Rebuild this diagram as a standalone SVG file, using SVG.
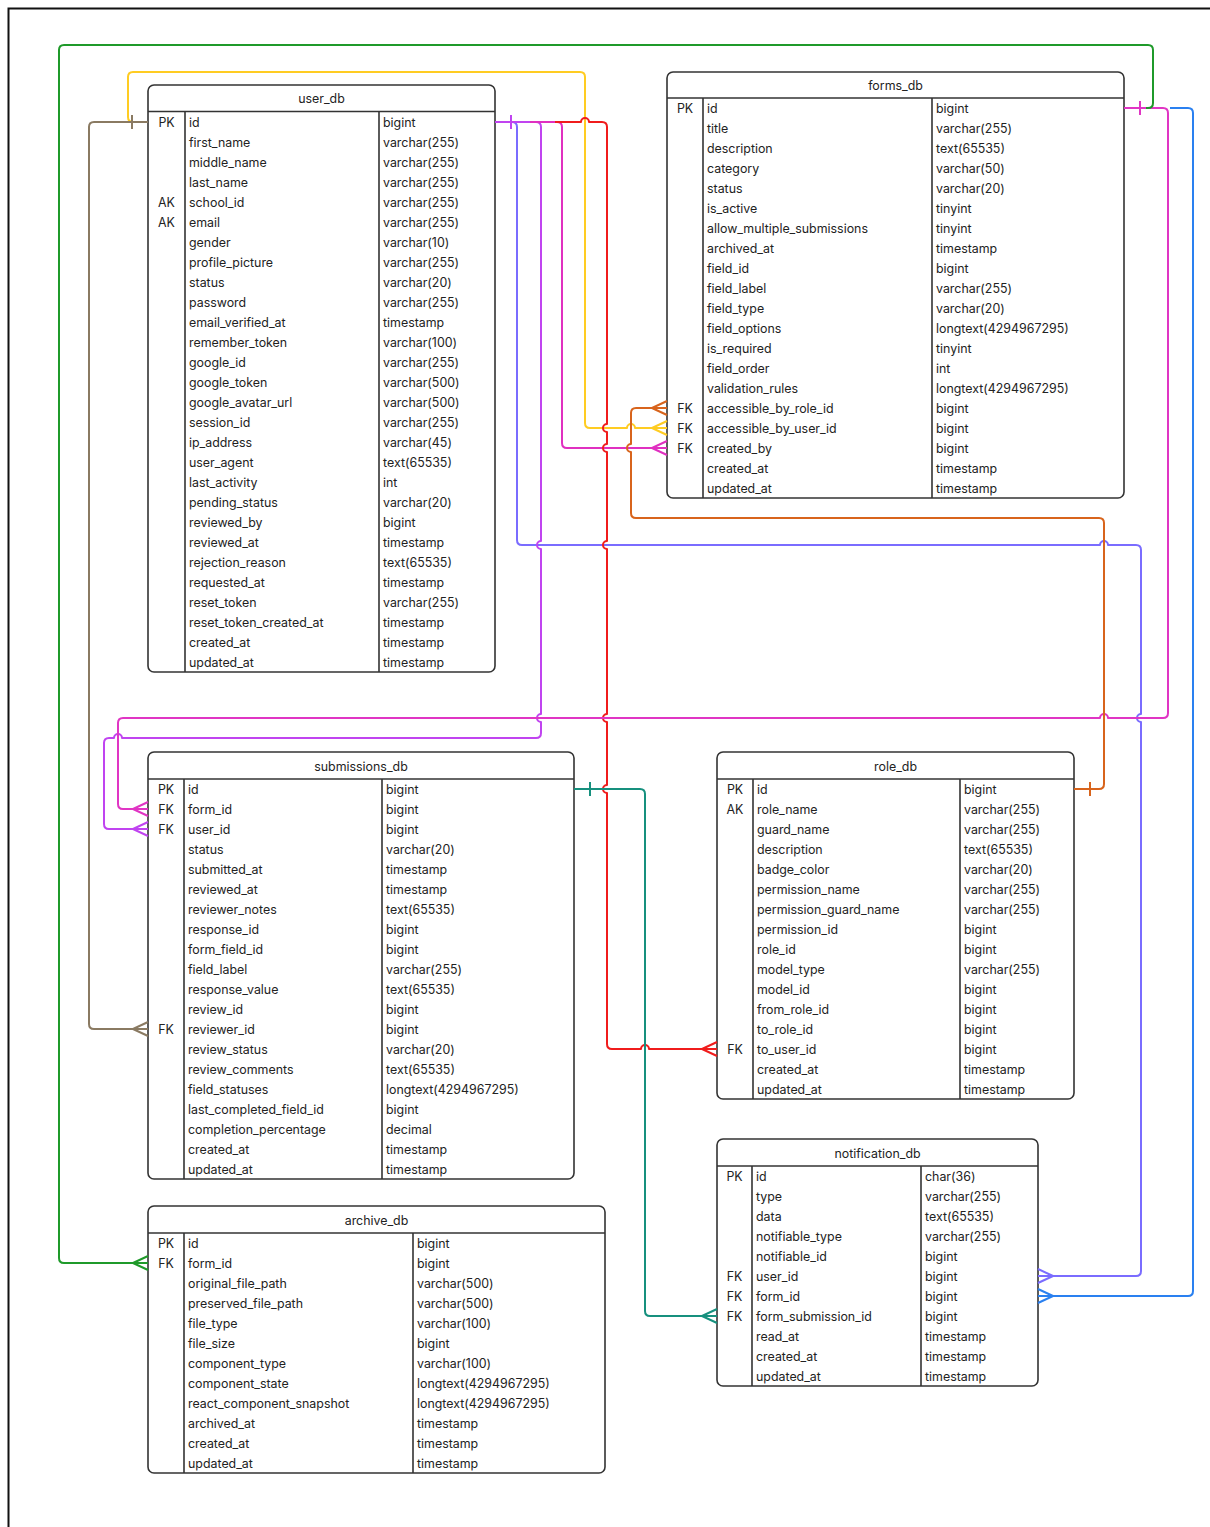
<svg xmlns="http://www.w3.org/2000/svg" width="1210" height="1527" viewBox="0 0 1210 1527">
<style>
.box{fill:#fff;stroke:#333;stroke-width:1.6}
.ln{stroke:#333;stroke-width:1.6}
text{font-family:Inter,"Noto Sans","Liberation Sans",sans-serif;font-size:12.4px;fill:#222}
.ttl{text-anchor:middle}
.k{text-anchor:middle}
.c{fill:none;stroke-width:2;stroke-linejoin:round;stroke-linecap:butt}
</style>
<rect x="8.5" y="8.5" width="1300" height="1600" fill="#fff" stroke="#111" stroke-width="2"/>

<g id="user_db">
<rect x="148" y="85" width="347" height="587" rx="6" class="box"/>
<line x1="148" y1="111.5" x2="495" y2="111.5" class="ln"/>
<line x1="185" y1="111.5" x2="185" y2="672" class="ln"/>
<line x1="379" y1="111.5" x2="379" y2="672" class="ln"/>
<text class="ttl" x="321.5" y="102.5">user_db</text>
<text class="k" x="166.5" y="126.5">PK</text><text x="189" y="126.5">id</text><text x="383" y="126.5">bigint</text>
<text x="189" y="146.5">first_name</text><text x="383" y="146.5">varchar(255)</text>
<text x="189" y="166.5">middle_name</text><text x="383" y="166.5">varchar(255)</text>
<text x="189" y="186.5">last_name</text><text x="383" y="186.5">varchar(255)</text>
<text class="k" x="166.5" y="206.5">AK</text><text x="189" y="206.5">school_id</text><text x="383" y="206.5">varchar(255)</text>
<text class="k" x="166.5" y="226.5">AK</text><text x="189" y="226.5">email</text><text x="383" y="226.5">varchar(255)</text>
<text x="189" y="246.5">gender</text><text x="383" y="246.5">varchar(10)</text>
<text x="189" y="266.5">profile_picture</text><text x="383" y="266.5">varchar(255)</text>
<text x="189" y="286.5">status</text><text x="383" y="286.5">varchar(20)</text>
<text x="189" y="306.5">password</text><text x="383" y="306.5">varchar(255)</text>
<text x="189" y="326.5">email_verified_at</text><text x="383" y="326.5">timestamp</text>
<text x="189" y="346.5">remember_token</text><text x="383" y="346.5">varchar(100)</text>
<text x="189" y="366.5">google_id</text><text x="383" y="366.5">varchar(255)</text>
<text x="189" y="386.5">google_token</text><text x="383" y="386.5">varchar(500)</text>
<text x="189" y="406.5">google_avatar_url</text><text x="383" y="406.5">varchar(500)</text>
<text x="189" y="426.5">session_id</text><text x="383" y="426.5">varchar(255)</text>
<text x="189" y="446.5">ip_address</text><text x="383" y="446.5">varchar(45)</text>
<text x="189" y="466.5">user_agent</text><text x="383" y="466.5">text(65535)</text>
<text x="189" y="486.5">last_activity</text><text x="383" y="486.5">int</text>
<text x="189" y="506.5">pending_status</text><text x="383" y="506.5">varchar(20)</text>
<text x="189" y="526.5">reviewed_by</text><text x="383" y="526.5">bigint</text>
<text x="189" y="546.5">reviewed_at</text><text x="383" y="546.5">timestamp</text>
<text x="189" y="566.5">rejection_reason</text><text x="383" y="566.5">text(65535)</text>
<text x="189" y="586.5">requested_at</text><text x="383" y="586.5">timestamp</text>
<text x="189" y="606.5">reset_token</text><text x="383" y="606.5">varchar(255)</text>
<text x="189" y="626.5">reset_token_created_at</text><text x="383" y="626.5">timestamp</text>
<text x="189" y="646.5">created_at</text><text x="383" y="646.5">timestamp</text>
<text x="189" y="666.5">updated_at</text><text x="383" y="666.5">timestamp</text>
</g>

<g id="forms_db">
<rect x="667" y="72" width="457" height="426" rx="6" class="box"/>
<line x1="667" y1="98" x2="1124" y2="98" class="ln"/>
<line x1="703" y1="98" x2="703" y2="498" class="ln"/>
<line x1="932" y1="98" x2="932" y2="498" class="ln"/>
<text class="ttl" x="895.5" y="89.5">forms_db</text>
<text class="k" x="685" y="112.5">PK</text><text x="707" y="112.5">id</text><text x="936" y="112.5">bigint</text>
<text x="707" y="132.5">title</text><text x="936" y="132.5">varchar(255)</text>
<text x="707" y="152.5">description</text><text x="936" y="152.5">text(65535)</text>
<text x="707" y="172.5">category</text><text x="936" y="172.5">varchar(50)</text>
<text x="707" y="192.5">status</text><text x="936" y="192.5">varchar(20)</text>
<text x="707" y="212.5">is_active</text><text x="936" y="212.5">tinyint</text>
<text x="707" y="232.5">allow_multiple_submissions</text><text x="936" y="232.5">tinyint</text>
<text x="707" y="252.5">archived_at</text><text x="936" y="252.5">timestamp</text>
<text x="707" y="272.5">field_id</text><text x="936" y="272.5">bigint</text>
<text x="707" y="292.5">field_label</text><text x="936" y="292.5">varchar(255)</text>
<text x="707" y="312.5">field_type</text><text x="936" y="312.5">varchar(20)</text>
<text x="707" y="332.5">field_options</text><text x="936" y="332.5">longtext(4294967295)</text>
<text x="707" y="352.5">is_required</text><text x="936" y="352.5">tinyint</text>
<text x="707" y="372.5">field_order</text><text x="936" y="372.5">int</text>
<text x="707" y="392.5">validation_rules</text><text x="936" y="392.5">longtext(4294967295)</text>
<text class="k" x="685" y="412.5">FK</text><text x="707" y="412.5">accessible_by_role_id</text><text x="936" y="412.5">bigint</text>
<text class="k" x="685" y="432.5">FK</text><text x="707" y="432.5">accessible_by_user_id</text><text x="936" y="432.5">bigint</text>
<text class="k" x="685" y="452.5">FK</text><text x="707" y="452.5">created_by</text><text x="936" y="452.5">bigint</text>
<text x="707" y="472.5">created_at</text><text x="936" y="472.5">timestamp</text>
<text x="707" y="492.5">updated_at</text><text x="936" y="492.5">timestamp</text>
</g>

<g id="submissions_db">
<rect x="148" y="752" width="426" height="427" rx="6" class="box"/>
<line x1="148" y1="779" x2="574" y2="779" class="ln"/>
<line x1="184" y1="779" x2="184" y2="1179" class="ln"/>
<line x1="382" y1="779" x2="382" y2="1179" class="ln"/>
<text class="ttl" x="361" y="770.5">submissions_db</text>
<text class="k" x="166" y="793.5">PK</text><text x="188" y="793.5">id</text><text x="386" y="793.5">bigint</text>
<text class="k" x="166" y="813.5">FK</text><text x="188" y="813.5">form_id</text><text x="386" y="813.5">bigint</text>
<text class="k" x="166" y="833.5">FK</text><text x="188" y="833.5">user_id</text><text x="386" y="833.5">bigint</text>
<text x="188" y="853.5">status</text><text x="386" y="853.5">varchar(20)</text>
<text x="188" y="873.5">submitted_at</text><text x="386" y="873.5">timestamp</text>
<text x="188" y="893.5">reviewed_at</text><text x="386" y="893.5">timestamp</text>
<text x="188" y="913.5">reviewer_notes</text><text x="386" y="913.5">text(65535)</text>
<text x="188" y="933.5">response_id</text><text x="386" y="933.5">bigint</text>
<text x="188" y="953.5">form_field_id</text><text x="386" y="953.5">bigint</text>
<text x="188" y="973.5">field_label</text><text x="386" y="973.5">varchar(255)</text>
<text x="188" y="993.5">response_value</text><text x="386" y="993.5">text(65535)</text>
<text x="188" y="1013.5">review_id</text><text x="386" y="1013.5">bigint</text>
<text class="k" x="166" y="1033.5">FK</text><text x="188" y="1033.5">reviewer_id</text><text x="386" y="1033.5">bigint</text>
<text x="188" y="1053.5">review_status</text><text x="386" y="1053.5">varchar(20)</text>
<text x="188" y="1073.5">review_comments</text><text x="386" y="1073.5">text(65535)</text>
<text x="188" y="1093.5">field_statuses</text><text x="386" y="1093.5">longtext(4294967295)</text>
<text x="188" y="1113.5">last_completed_field_id</text><text x="386" y="1113.5">bigint</text>
<text x="188" y="1133.5">completion_percentage</text><text x="386" y="1133.5">decimal</text>
<text x="188" y="1153.5">created_at</text><text x="386" y="1153.5">timestamp</text>
<text x="188" y="1173.5">updated_at</text><text x="386" y="1173.5">timestamp</text>
</g>

<g id="role_db">
<rect x="717" y="752" width="357" height="347" rx="6" class="box"/>
<line x1="717" y1="779" x2="1074" y2="779" class="ln"/>
<line x1="753" y1="779" x2="753" y2="1099" class="ln"/>
<line x1="960" y1="779" x2="960" y2="1099" class="ln"/>
<text class="ttl" x="895.5" y="770.5">role_db</text>
<text class="k" x="735" y="793.5">PK</text><text x="757" y="793.5">id</text><text x="964" y="793.5">bigint</text>
<text class="k" x="735" y="813.5">AK</text><text x="757" y="813.5">role_name</text><text x="964" y="813.5">varchar(255)</text>
<text x="757" y="833.5">guard_name</text><text x="964" y="833.5">varchar(255)</text>
<text x="757" y="853.5">description</text><text x="964" y="853.5">text(65535)</text>
<text x="757" y="873.5">badge_color</text><text x="964" y="873.5">varchar(20)</text>
<text x="757" y="893.5">permission_name</text><text x="964" y="893.5">varchar(255)</text>
<text x="757" y="913.5">permission_guard_name</text><text x="964" y="913.5">varchar(255)</text>
<text x="757" y="933.5">permission_id</text><text x="964" y="933.5">bigint</text>
<text x="757" y="953.5">role_id</text><text x="964" y="953.5">bigint</text>
<text x="757" y="973.5">model_type</text><text x="964" y="973.5">varchar(255)</text>
<text x="757" y="993.5">model_id</text><text x="964" y="993.5">bigint</text>
<text x="757" y="1013.5">from_role_id</text><text x="964" y="1013.5">bigint</text>
<text x="757" y="1033.5">to_role_id</text><text x="964" y="1033.5">bigint</text>
<text class="k" x="735" y="1053.5">FK</text><text x="757" y="1053.5">to_user_id</text><text x="964" y="1053.5">bigint</text>
<text x="757" y="1073.5">created_at</text><text x="964" y="1073.5">timestamp</text>
<text x="757" y="1093.5">updated_at</text><text x="964" y="1093.5">timestamp</text>
</g>

<g id="notification_db">
<rect x="717" y="1139" width="321" height="247" rx="6" class="box"/>
<line x1="717" y1="1166" x2="1038" y2="1166" class="ln"/>
<line x1="752" y1="1166" x2="752" y2="1386" class="ln"/>
<line x1="921" y1="1166" x2="921" y2="1386" class="ln"/>
<text class="ttl" x="877.5" y="1157.5">notification_db</text>
<text class="k" x="734.5" y="1180.5">PK</text><text x="756" y="1180.5">id</text><text x="925" y="1180.5">char(36)</text>
<text x="756" y="1200.5">type</text><text x="925" y="1200.5">varchar(255)</text>
<text x="756" y="1220.5">data</text><text x="925" y="1220.5">text(65535)</text>
<text x="756" y="1240.5">notifiable_type</text><text x="925" y="1240.5">varchar(255)</text>
<text x="756" y="1260.5">notifiable_id</text><text x="925" y="1260.5">bigint</text>
<text class="k" x="734.5" y="1280.5">FK</text><text x="756" y="1280.5">user_id</text><text x="925" y="1280.5">bigint</text>
<text class="k" x="734.5" y="1300.5">FK</text><text x="756" y="1300.5">form_id</text><text x="925" y="1300.5">bigint</text>
<text class="k" x="734.5" y="1320.5">FK</text><text x="756" y="1320.5">form_submission_id</text><text x="925" y="1320.5">bigint</text>
<text x="756" y="1340.5">read_at</text><text x="925" y="1340.5">timestamp</text>
<text x="756" y="1360.5">created_at</text><text x="925" y="1360.5">timestamp</text>
<text x="756" y="1380.5">updated_at</text><text x="925" y="1380.5">timestamp</text>
</g>

<g id="archive_db">
<rect x="148" y="1206" width="457" height="267" rx="6" class="box"/>
<line x1="148" y1="1233" x2="605" y2="1233" class="ln"/>
<line x1="184" y1="1233" x2="184" y2="1473" class="ln"/>
<line x1="413" y1="1233" x2="413" y2="1473" class="ln"/>
<text class="ttl" x="376.5" y="1224.5">archive_db</text>
<text class="k" x="166" y="1247.5">PK</text><text x="188" y="1247.5">id</text><text x="417" y="1247.5">bigint</text>
<text class="k" x="166" y="1267.5">FK</text><text x="188" y="1267.5">form_id</text><text x="417" y="1267.5">bigint</text>
<text x="188" y="1287.5">original_file_path</text><text x="417" y="1287.5">varchar(500)</text>
<text x="188" y="1307.5">preserved_file_path</text><text x="417" y="1307.5">varchar(500)</text>
<text x="188" y="1327.5">file_type</text><text x="417" y="1327.5">varchar(100)</text>
<text x="188" y="1347.5">file_size</text><text x="417" y="1347.5">bigint</text>
<text x="188" y="1367.5">component_type</text><text x="417" y="1367.5">varchar(100)</text>
<text x="188" y="1387.5">component_state</text><text x="417" y="1387.5">longtext(4294967295)</text>
<text x="188" y="1407.5">react_component_snapshot</text><text x="417" y="1407.5">longtext(4294967295)</text>
<text x="188" y="1427.5">archived_at</text><text x="417" y="1427.5">timestamp</text>
<text x="188" y="1447.5">created_at</text><text x="417" y="1447.5">timestamp</text>
<text x="188" y="1467.5">updated_at</text><text x="417" y="1467.5">timestamp</text>
</g>

<g id="connectors">
<path class="c" stroke="#ffcc22" d="M148,122 H133 Q128,122 128,117 V77 Q128,72 133,72 H580 Q585,72 585,77 V423 Q585,428 590,428 H627 A4,4 0 0 1 635,428 H667 M652,428 L667,421 M652,428 L667,435"/>
<path class="c" stroke="#8a7a62" d="M148,122 H94 Q89,122 89,127 V1024 Q89,1029 94,1029 H148 M132,115 V129 M133,1029 L148,1022 M133,1029 L148,1036"/>
<path class="c" stroke="#7a6cff" d="M495,122 H512 Q517,122 517,127 V540 Q517,545 522,545 H1100 A4,4 0 0 1 1108,545 H1136 Q1141,545 1141,550 V714 A4,4 0 0 0 1141,722 V1271 Q1141,1276 1136,1276 H1038 M1053,1276 L1038,1269 M1053,1276 L1038,1283"/>
<path class="c" stroke="#c044f0" d="M495,122 H536 Q541,122 541,127 V541 A4,4 0 0 0 541,549 V714 A4,4 0 0 0 541,722 V733 Q541,738 536,738 H122 A4,4 0 0 0 114,738 H109 Q104,738 104,743 V824 Q104,829 109,829 H148 M511,115 V129 M133,829 L148,822 M133,829 L148,836"/>
<path class="c" stroke="#e030c0" d="M530,122 H557 Q562,122 562,127 V443 Q562,448 567,448 H667 M652,448 L667,441 M652,448 L667,455"/>
<path class="c" stroke="#f01c1c" d="M555,122 H581 A4,4 0 0 1 589,122 H602 Q607,122 607,127 V424 A4,4 0 0 0 607,432 V444 A4,4 0 0 0 607,452 V541 A4,4 0 0 0 607,549 V714 A4,4 0 0 0 607,722 V785 A4,4 0 0 0 607,793 V1044 Q607,1049 612,1049 H641 A4,4 0 0 1 649,1049 H717 M702,1049 L717,1042 M702,1049 L717,1056"/>
<path class="c" stroke="#e035c4" d="M1124,108 H1163 Q1168,108 1168,113 V713 Q1168,718 1163,718 H1108 A4,4 0 0 0 1100,718 H123 Q118,718 118,723 V804 Q118,809 123,809 H148 M1140,101 V115 M133,809 L148,802 M133,809 L148,816"/>
<path class="c" stroke="#1f9a2a" d="M1146,108 H1148 Q1153,108 1153,103 V50 Q1153,45 1148,45 H64 Q59,45 59,50 V1258 Q59,1263 64,1263 H148 M133,1263 L148,1256 M133,1263 L148,1270"/>
<path class="c" stroke="#2a80f0" d="M1170,108 H1188 Q1193,108 1193,113 V1291 Q1193,1296 1188,1296 H1038 M1053,1296 L1038,1289 M1053,1296 L1038,1303"/>
<path class="c" stroke="#d8641c" d="M1074,789 H1099 Q1104,789 1104,784 V523 Q1104,518 1099,518 H636 Q631,518 631,513 V452 A4,4 0 0 1 631,444 V413 Q631,408 636,408 H667 M1090,782 V796 M652,408 L667,401 M652,408 L667,415"/>
<path class="c" stroke="#16907e" d="M574,789 H640 Q645,789 645,794 V1311 Q645,1316 650,1316 H717 M590,782 V796 M702,1316 L717,1309 M702,1316 L717,1323"/>
</g>
</svg>
